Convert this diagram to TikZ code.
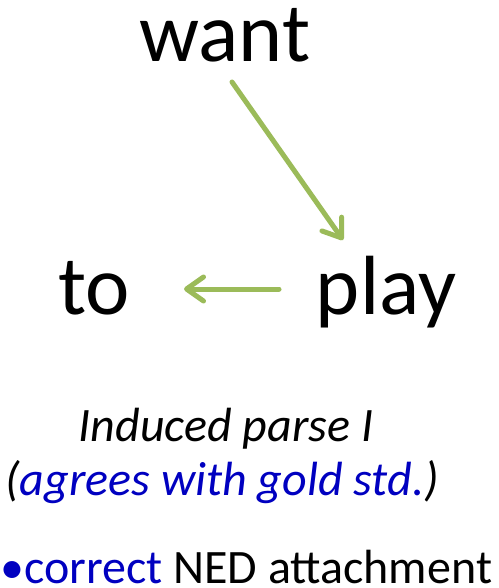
\documentclass[tikz,border=0pt]{standalone}
\usepackage{fontspec}
\setmainfont{Carlito}
\usetikzlibrary{arrows.meta}
\definecolor{depgreen}{HTML}{9BBB59}
\definecolor{goldblue}{HTML}{0000C0}
\tikzset{
  word/.style={font=\fontsize{84}{90}\selectfont, inner sep=0pt, anchor=base},
  caption/.style={font=\fontsize{48}{54}\selectfont, inner sep=0pt, anchor=base},
  dep/.style={draw=depgreen, line width=5pt, line cap=round,
    -{Straight Barb[length=17pt, width=24pt, round]}},
}
\begin{document}
\begin{tikzpicture}[x=1pt, y=-1pt]
  \useasboundingbox (0,0) rectangle (498,588);
  % words of the sentence
  \node[word] (want) at (225,62) {want};
  \node[word] (to) at (94,314) {to};
  \node[word] (play) at (386,314) {play};
  % dependency arcs
  \coordinate (wantS) at (232,82);
  \coordinate (playE) at (343,240);
  \coordinate (playS) at (279,289);
  \coordinate (toE) at (184,289);
  \draw[dep] (wantS) -- (playE);
  \draw[dep] (playS) -- (toE);
  % caption
  \node[caption] (cap1) at (226,441) {\itshape Induced parse I};
  \node[caption] (cap2) at (222,495) {\itshape (\textcolor{goldblue}{agrees with gold std.})};
  \node[caption, anchor=base west] (cap3) at (0,583) {\textcolor{goldblue}{\textbullet correct} NED attachment};
\end{tikzpicture}
\end{document}
